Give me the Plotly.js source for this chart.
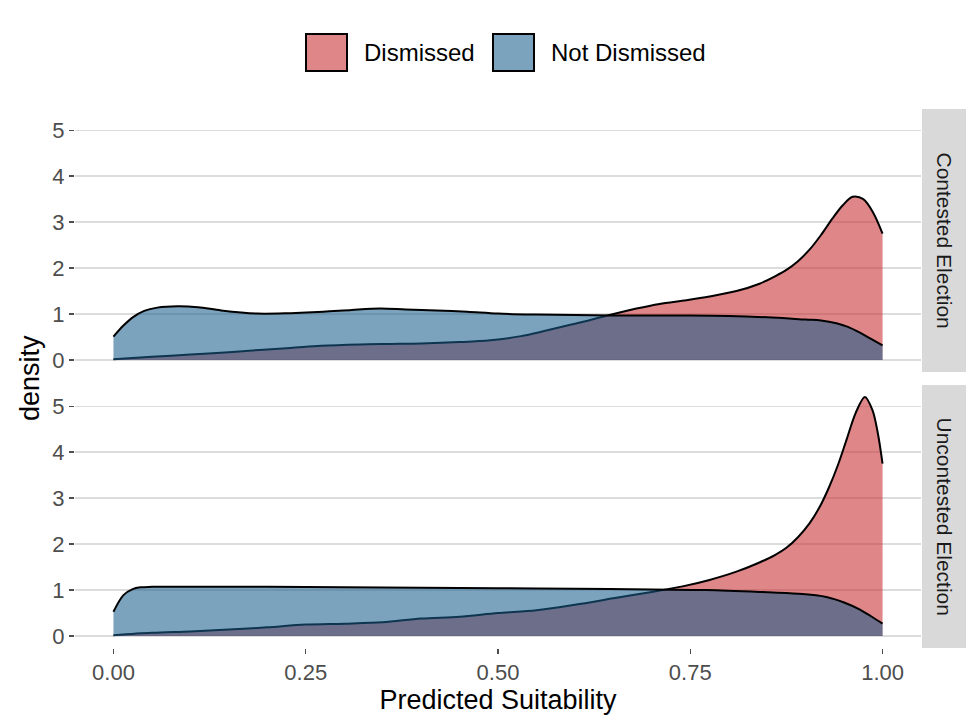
<!DOCTYPE html>
<html>
<head>
<meta charset="utf-8">
<script src="https://cdn.plot.ly/plotly-3.0.1.min.js"></script>
<style>html,body{margin:0;padding:0;background:#fff;}#chart{width:969px;height:721px;}</style>
</head>
<body>
<div id="chart"></div>
<script>
// ---- Data ----
const groups = ["Dismissed", "Not Dismissed"];
const facets = ["Contested Election", "Uncontested Election"];

// Contested Election
const contestedDismissedX = [0, 0.05, 0.1, 0.15, 0.19, 0.23, 0.27, 0.32, 0.36, 0.40, 0.45, 0.49, 0.53, 0.56, 0.59, 0.62, 0.645, 0.68, 0.71, 0.745, 0.775, 0.81, 0.84, 0.86, 0.875, 0.89, 0.905, 0.92, 0.935, 0.948, 0.961, 0.975, 0.988, 1.0];
const contestedDismissedY = [0.02, 0.07, 0.12, 0.17, 0.22, 0.26, 0.31, 0.34, 0.35, 0.36, 0.39, 0.43, 0.52, 0.63, 0.75, 0.87, 0.98, 1.12, 1.22, 1.30, 1.38, 1.50, 1.66, 1.82, 1.96, 2.15, 2.4, 2.72, 3.08, 3.36, 3.55, 3.5, 3.2, 2.75];
const contestedNotDismissedX = [0, 0.013, 0.026, 0.04, 0.057, 0.083, 0.11, 0.14, 0.187, 0.23, 0.273, 0.31, 0.347, 0.38, 0.42, 0.46, 0.5, 0.55, 0.6, 0.65, 0.7, 0.75, 0.8, 0.85, 0.9, 0.92, 0.94, 0.955, 0.97, 0.985, 1.0];
const contestedNotDismissedY = [0.51, 0.75, 0.94, 1.07, 1.14, 1.17, 1.15, 1.08, 1.01, 1.02, 1.05, 1.09, 1.12, 1.10, 1.08, 1.05, 1.01, 0.99, 0.98, 0.97, 0.97, 0.97, 0.96, 0.93, 0.88, 0.86, 0.8, 0.72, 0.6, 0.46, 0.32];

// Uncontested Election
const uncontestedDismissedX = [0, 0.05, 0.1, 0.15, 0.2, 0.25, 0.3, 0.35, 0.4, 0.45, 0.5, 0.55, 0.6, 0.65, 0.7, 0.74, 0.775, 0.81, 0.84, 0.86, 0.875, 0.89, 0.905, 0.918, 0.93, 0.942, 0.953, 0.965, 0.977, 0.987, 0.994, 1.0];
const uncontestedDismissedY = [0.02, 0.07, 0.1, 0.14, 0.19, 0.25, 0.27, 0.3, 0.38, 0.42, 0.5, 0.56, 0.68, 0.82, 0.96, 1.08, 1.22, 1.4, 1.6, 1.76, 1.92, 2.15, 2.45, 2.8, 3.22, 3.72, 4.26, 4.85, 5.2, 4.91, 4.4, 3.75];
const uncontestedNotDismissedX = [0, 0.013, 0.025, 0.035, 0.05, 0.1, 0.2, 0.3, 0.4, 0.5, 0.6, 0.7, 0.77, 0.84, 0.89, 0.927, 0.95, 0.97, 0.985, 1.0];
const uncontestedNotDismissedY = [0.53, 0.89, 1.02, 1.06, 1.07, 1.07, 1.07, 1.06, 1.05, 1.04, 1.03, 1.01, 1.0, 0.96, 0.92, 0.85, 0.73, 0.58, 0.43, 0.27];

const xTicks = [0, 0.25, 0.5, 0.75, 1.0];
const yTicks = [0, 1, 2, 3, 4, 5];

// ---- Styles ----
const fillColors = {"Dismissed": "rgba(197,43,45,0.57)", "Not Dismissed": "rgba(23,94,141,0.57)"};
const FONT = "Liberation Sans, Arial, Helvetica, sans-serif";

function densityTrace(x, y, group, yaxis) {
  return {
    x: x, y: y, type: "scatter", mode: "lines", name: group,
    xaxis: "x", yaxis: yaxis,
    fill: "tozeroy", fillcolor: fillColors[group],
    line: {color: "#000000", width: 2, shape: "spline", smoothing: 0.9},
    showlegend: false, hoverinfo: "x+y+name"
  };
}

const data = [
  densityTrace(contestedDismissedX, contestedDismissedY, groups[0], "y2"),
  densityTrace(contestedNotDismissedX, contestedNotDismissedY, groups[1], "y2"),
  densityTrace(uncontestedDismissedX, uncontestedDismissedY, groups[0], "y"),
  densityTrace(uncontestedNotDismissedX, uncontestedNotDismissedY, groups[1], "y")
];

const W = 969, H = 721;
const M = {l: 75, r: 48, t: 109, b: 73};
const pw = W - M.l - M.r, ph = H - M.t - M.b;
const px = v => (v - M.l) / pw;         // pixel x -> paper
const py = v => (H - M.b - v) / ph;     // pixel y -> paper

const topDomain = [py(372), 1];
const botDomain = [0, py(385)];

const yAxisBase = {
  range: [-0.26, 5.46], tickvals: yTicks, ticktext: yTicks.map(String),
  showgrid: true, gridcolor: "#DCDCDC", gridwidth: 1.3,
  zeroline: false, showline: false,
  ticks: "outside", ticklen: 5, tickwidth: 1.3, tickcolor: "#4D4D4D",
  tickfont: {family: FONT, size: 22, color: "#4D4D4D"},
  fixedrange: true
};

const layout = {
  width: W, height: H,
  margin: M,
  paper_bgcolor: "#ffffff", plot_bgcolor: "#ffffff",
  showlegend: false,
  font: {family: FONT},
  xaxis: {
    domain: [0, 1], anchor: "y", range: [-0.05, 1.05],
    tickvals: xTicks, ticktext: xTicks.map(v => v.toFixed(2)),
    showgrid: false, zeroline: false, showline: false,
    ticks: "outside", ticklen: 5, tickwidth: 1.3, tickcolor: "#4D4D4D",
    tickfont: {family: FONT, size: 22, color: "#4D4D4D"},
    title: {text: "Predicted Suitability", font: {family: FONT, size: 27, color: "#000000"}, standoff: 5}
  },
  yaxis: Object.assign({}, yAxisBase, {domain: botDomain, anchor: "x"}),
  yaxis2: Object.assign({}, yAxisBase, {domain: topDomain, anchor: "x"}),
  shapes: [
    // facet strips
    {type: "rect", xref: "paper", yref: "paper", x0: px(922), x1: px(966), y0: topDomain[0], y1: topDomain[1], fillcolor: "#D9D9D9", line: {width: 0}},
    {type: "rect", xref: "paper", yref: "paper", x0: px(922), x1: px(966), y0: botDomain[0], y1: botDomain[1], fillcolor: "#D9D9D9", line: {width: 0}},
    // legend keys
    {type: "rect", xref: "paper", yref: "paper", x0: px(306), x1: px(347), y0: py(71), y1: py(34), fillcolor: fillColors["Dismissed"], line: {color: "#000000", width: 2}},
    {type: "rect", xref: "paper", yref: "paper", x0: px(493), x1: px(534), y0: py(71), y1: py(34), fillcolor: fillColors["Not Dismissed"], line: {color: "#000000", width: 2}}
  ],
  annotations: [
    {text: facets[0], xref: "paper", yref: "paper", x: px(944), y: (topDomain[0] + topDomain[1]) / 2, textangle: 90, showarrow: false, xanchor: "center", yanchor: "middle", font: {family: FONT, size: 21, color: "#1A1A1A"}},
    {text: facets[1], xref: "paper", yref: "paper", x: px(944), y: (botDomain[0] + botDomain[1]) / 2, textangle: 90, showarrow: false, xanchor: "center", yanchor: "middle", font: {family: FONT, size: 21, color: "#1A1A1A"}},
    {text: "density", xref: "paper", yref: "paper", x: px(30), y: py(378), textangle: -90, showarrow: false, xanchor: "center", yanchor: "middle", font: {family: FONT, size: 27, color: "#000000"}},
    {text: groups[0], xref: "paper", yref: "paper", x: px(362), y: py(53), showarrow: false, xanchor: "left", yanchor: "middle", font: {family: FONT, size: 24, color: "#000000"}},
    {text: groups[1], xref: "paper", yref: "paper", x: px(549), y: py(53), showarrow: false, xanchor: "left", yanchor: "middle", font: {family: FONT, size: 24, color: "#000000"}}
  ]
};

Plotly.newPlot("chart", data, layout, {displayModeBar: false, staticPlot: true});
</script>
</body>
</html>
